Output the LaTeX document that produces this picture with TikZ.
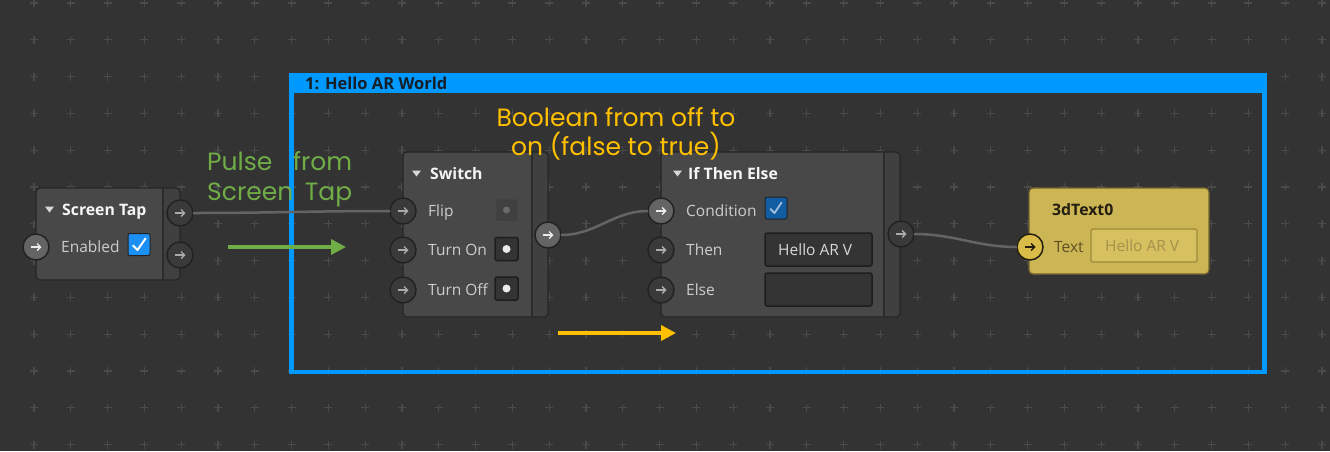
\documentclass[tikz,border=0pt]{standalone}
\usepackage{fontspec}
\usetikzlibrary{arrows.meta}
\newfontfamily\uifont{Open Sans}
\newfontfamily\notefont{Poppins}
\definecolor{bgc}{RGB}{51,51,51}
\definecolor{gridc}{RGB}{74,74,74}
\definecolor{bodyc}{RGB}{72,72,72}
\definecolor{stripc}{RGB}{64,64,64}
\definecolor{borderc}{RGB}{38,38,38}
\definecolor{sepc}{RGB}{44,44,44}
\definecolor{portdarkc}{RGB}{58,58,58}
\definecolor{portlightc}{RGB}{100,100,100}
\definecolor{portborderc}{RGB}{34,34,34}
\definecolor{arrowdimc}{RGB}{170,170,170}
\definecolor{arrowlitc}{RGB}{235,235,235}
\definecolor{titlec}{RGB}{245,245,245}
\definecolor{labelc}{RGB}{205,205,205}
\definecolor{tric}{RGB}{215,215,215}
\definecolor{wirec}{RGB}{100,100,100}
\definecolor{frameblue}{RGB}{0,153,255}
\definecolor{headtextc}{RGB}{22,30,40}
\definecolor{checkblue}{RGB}{28,144,245}
\definecolor{checkdark}{RGB}{18,92,162}
\definecolor{checkmarkdim}{RGB}{160,190,220}
\definecolor{fieldc}{RGB}{52,52,52}
\definecolor{fieldborderc}{RGB}{30,30,30}
\definecolor{flipdotc}{RGB}{105,105,105}
\definecolor{dotc}{RGB}{235,235,235}
\definecolor{fieldtextc}{RGB}{215,215,215}
\definecolor{yellowc}{RGB}{204,181,84}
\definecolor{yellowborderc}{RGB}{115,100,45}
\definecolor{yellowfieldc}{RGB}{214,192,96}
\definecolor{yellowfieldborderc}{RGB}{160,138,60}
\definecolor{yellowfieldtextc}{RGB}{165,145,75}
\definecolor{yellowtitlec}{RGB}{35,30,15}
\definecolor{yellowlabelc}{RGB}{95,80,35}
\definecolor{yellowportc}{RGB}{218,188,72}
\definecolor{notegreen}{RGB}{112,173,71}
\definecolor{notegold}{RGB}{255,192,0}
\tikzset{
  gridplus/.style={draw=gridc, line width=1.3pt},
  uibody/.style={fill=bodyc, rounded corners=4pt, inner sep=0pt, outer sep=0pt, anchor=north west},
  bodyline/.style={draw=borderc, line width=1.2pt, rounded corners=4pt},
  sepline/.style={draw=sepc, line width=1.2pt},
  portbase/.style={circle, minimum size=26pt, inner sep=0pt, outer sep=0pt, line width=1.5pt},
  portdark/.style={portbase, fill=portdarkc, draw=portborderc},
  portlight/.style={portbase, fill=portlightc, draw=portborderc},
  portyellow/.style={portbase, fill=yellowportc, draw=yellowtitlec},
  uititle/.style={font=\uifont\bfseries\fontsize{15.8}{18}\selectfont, text=titlec, inner sep=0pt, anchor=base west},
  uilabel/.style={font=\uifont\fontsize{15.5}{18}\selectfont, text=labelc, inner sep=0pt, anchor=base west},
  wire/.style={draw=wirec, line width=2.5pt},
  notetext/.style={font=\notefont\fontsize{25}{30}\selectfont, inner sep=0pt},
  notearrow/.style={line width=3.5pt, -{Triangle[length=15pt,width=15pt]}},
  indbox/.style={minimum size=23pt, inner sep=0pt, rounded corners=1.5pt, line width=1.5pt},
  field/.style={minimum width=107pt, minimum height=33pt, inner sep=0pt, fill=fieldc, draw=fieldborderc, line width=1.5pt, rounded corners=2pt},
  checkbox/.style={minimum size=22pt, inner sep=0pt, rounded corners=2pt, draw=portborderc, line width=1pt},
}
\newcommand\uiport[5]{%
  \node[#4] (#1) at (#2,#3) {};
  \draw[line width=1.4pt, draw=#5, -{Straight Barb[length=3.5pt,width=7pt]}] ([xshift=-5.5pt]#1.center) -- ([xshift=5.5pt]#1.center);}
\newcommand\uitri[2]{\fill[tric] (#1,#2) -- ++(9,0) -- ++(-4.5,6) -- cycle;}
\newcommand\uibox[6]{%
  \node[uibody, minimum width={#4pt-#2pt}, minimum height={#5pt-#3pt}] (#1) at (#2,#3) {};
  \begin{scope}
    \clip[rounded corners=4pt] (#2,#3) rectangle (#4,#5);
    \fill[stripc] (#6,#3) rectangle (#4,#5);
    \draw[sepline] (#6,#3) -- (#6,#5);
  \end{scope}
  \draw[bodyline] (#2,#3) rectangle (#4,#5);}
\begin{document}
\begin{tikzpicture}[x=1pt,y=-1pt]
\fill[bgc] (0,0) rectangle (1330,451);
\useasboundingbox (0,0) rectangle (1330,451);
% grid of plus marks
\foreach \i in {0,...,35} {
  \foreach \j in {0,...,12} {
    \draw[gridplus] ({34+36.8*\i-4},{3+36.8*\j}) -- ++(8,0) ({34+36.8*\i},{3+36.8*\j-4}) -- ++(0,8);
  }
}
% group frame
\fill[frameblue] (289,73) rectangle (1267,93);
\draw[frameblue, line width=4.5pt] (291.5,80) rectangle (1264.5,371.75);
\node[anchor=base west, inner sep=0pt, font=\uifont\bfseries\fontsize{16.5}{18}\selectfont, text=headtextc] (grouptitle) at (305,89) {1: Hello AR World};

% Screen Tap node
\uibox{tap}{36}{188}{180}{280}{163}
\uitri{45}{206.5}
\node[uititle] (taptitle) at (62,215.5) {Screen Tap};
\node[uilabel] (tapenabled) at (61,252.5) {Enabled};
\node[checkbox, fill=checkblue] (tapchk) at (139,244.5) {};
\draw[white, line width=2pt, line cap=round, line join=round] (133,245.5) -- (137.5,250) -- (145.5,238.5);
\uiport{tapin}{36}{247}{portlight}{arrowlitc}
\uiport{tapout}{180}{213}{portdark}{arrowdimc}
\uiport{tapout2}{180}{255}{portdark}{arrowdimc}

% Switch node
\uibox{switch}{403}{152}{548}{317}{532}
\uitri{412}{170.5}
\node[uititle] (swtitle) at (430,179) {Switch};
\node[uilabel] (fliplabel) at (428,216.5) {Flip};
\node[uilabel] (onlabel) at (428,255.5) {Turn On};
\node[uilabel] (offlabel) at (428,295.5) {Turn Off};
\node[indbox, fill=stripc, draw=bodyc] (flipind) at (506.5,210) {};
\fill[flipdotc] (flipind.center) circle (3.5pt);
\node[indbox, fill=fieldc, draw=fieldborderc] (onind) at (506.5,249) {};
\fill[dotc] (onind.center) circle (4pt);
\node[indbox, fill=fieldc, draw=fieldborderc] (offind) at (506.5,288.5) {};
\fill[dotc] (offind.center) circle (4pt);
\uiport{flip}{403}{211}{portdark}{arrowdimc}
\uiport{turnon}{403}{250}{portdark}{arrowdimc}
\uiport{turnoff}{403}{290}{portdark}{arrowdimc}
\uiport{swout}{548}{235}{portlight}{arrowlitc}

% If Then Else node
\uibox{ite}{661}{152}{900}{317}{884}
\uitri{673}{170.5}
\node[uititle] (itetitle) at (688,179) {If Then Else};
\node[uilabel] (condlabel) at (686,216.5) {Condition};
\node[uilabel] (thenlabel) at (686,255.5) {Then};
\node[uilabel] (elselabel) at (686,295.5) {Else};
\node[checkbox, fill=checkdark] (condchk) at (776,208) {};
\draw[checkmarkdim, line width=1.8pt, line cap=round, line join=round] (770.5,209) -- (774.5,213) -- (781.5,202.5);
\node[field] (thenfield) at (818.5,249.5) {};
\node[uilabel, text=fieldtextc] (thentext) at (778,255.5) {Hello AR V};
\node[field] (elsefield) at (818.5,289.5) {};
\uiport{cond}{661}{211}{portlight}{arrowlitc}
\uiport{thenin}{661}{250}{portdark}{arrowdimc}
\uiport{elsein}{661}{290}{portdark}{arrowdimc}
\uiport{iteout}{901}{234}{portdark}{arrowdimc}

% 3dText0 node
\node[uibody, fill=yellowc, draw=yellowborderc, line width=1.2pt, minimum width=180pt, minimum height=86pt] (textnode) at (1029,188) {};
\node[uititle, text=yellowtitlec] (texttitle) at (1052,215) {3dText0};
\node[uilabel, text=yellowlabelc] (textlabel) at (1054,252.5) {Text};
\node[field, minimum width=106pt, fill=yellowfieldc, draw=yellowfieldborderc, line width=1.2pt] (textfield) at (1144,245.5) {};
\node[uilabel, text=yellowfieldtextc] (textfieldtext) at (1105,251.5) {Hello AR V};
\uiport{txtin}{1030}{247}{portyellow}{yellowtitlec}

% wires
\draw[wire] (tapout.east) to[out=0,in=180] (flip.west);
\draw[wire] (swout.east) to[out=0,in=180] (cond.west);
\draw[wire] (iteout.east) to[out=0,in=180] (txtin.west);

% annotations (base anchor = baseline of the last line)
\node[notetext, text=notegreen, align=left, anchor=base west] (pulsenote) at (207,200)
  {\makebox[145pt][l]{Pulse\hfill from}\\\makebox[145pt][l]{Screen\hfill Tap}};
\node[notetext, text=notegold, align=center, anchor=base, font=\notefont\fontsize{25}{29}\selectfont] (boolnote) at (616,155)
  {Boolean from off to\\on (false to true)};
\coordinate (greenstart) at (228,247);
\coordinate (greenend) at (346,247);
\draw[notearrow, notegreen] (greenstart) -- (greenend);
\coordinate (goldstart) at (558,333);
\coordinate (goldend) at (676,333);
\draw[notearrow, notegold] (goldstart) -- (goldend);
\end{tikzpicture}
\end{document}
